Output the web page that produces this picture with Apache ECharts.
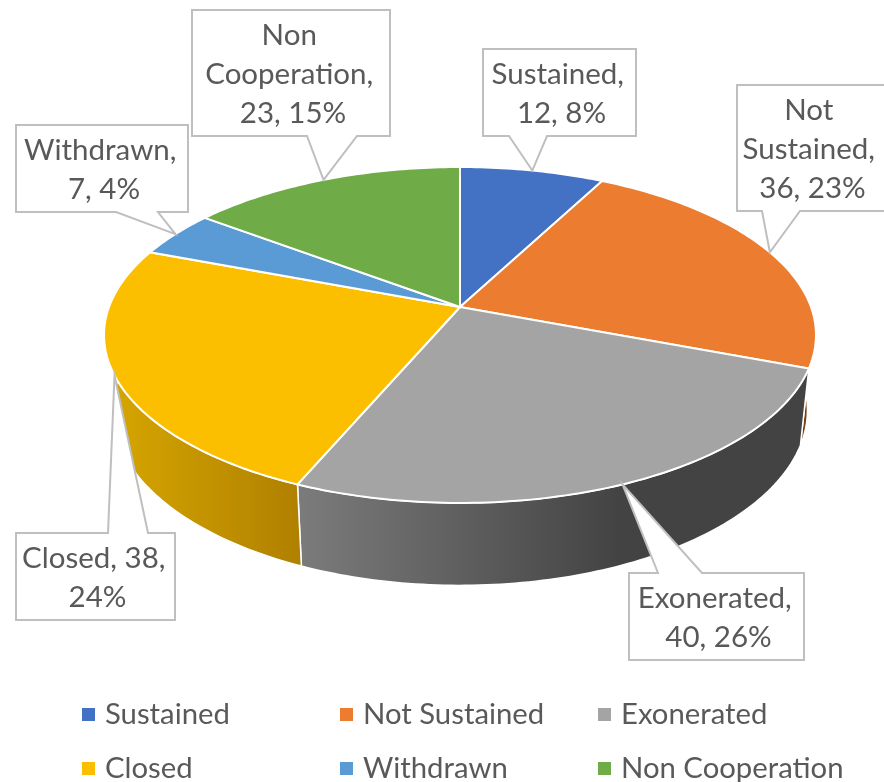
<!DOCTYPE html>
<html>
<head>
<meta charset="utf-8">
<style>
html,body{margin:0;padding:0;background:#fff}
#chart{width:884px;height:782px}
</style>
</head>
<body>
<div id="chart"></div>
<script src="https://cdn.jsdelivr.net/npm/echarts@6/dist/echarts.min.js"></script>
<script>
const categories = ['Sustained', 'Not Sustained', 'Exonerated', 'Closed', 'Withdrawn', 'Non Cooperation'];
const counts = [12, 36, 40, 38, 7, 23];
const colors = ['#4371c3', '#eb7c30', '#a4a4a4', '#fcbf00', '#5a9ad5', '#6fab47'];

// callout boxes: [left, top, right, bottom, wedge start x, wedge end x]
const callouts = [
    [483, 49, 636, 136, 509, 547],
    [737, 85, 887, 211, 762, 800],
    [629, 573, 804, 660, 658, 702],
    [16, 533, 175, 620, 108, 148],
    [16, 125, 188, 212, 116, 158],
    [192, 10, 390, 136, 307, 357]
];

// legend slots, left and top of each entry
const legendSlots = [[82, 700], [340, 700], [598, 700], [82, 754], [340, 754], [598, 754]];

const sideFills = [
    '#2a4478',
    '#7a3f12',
    {type: 'linear', global: true, x: 300, y: 0, x2: 620, y2: 0,
        colorStops: [{offset: 0, color: '#7b7b7b'}, {offset: 1, color: '#434343'}]},
    {type: 'linear', global: true, x: 120, y: 0, x2: 300, y2: 0,
        colorStops: [{offset: 0, color: '#d4a400'}, {offset: 1, color: '#b08000'}]},
    '#375f82',
    '#43682b'
];

const total = counts.reduce((a, b) => a + b, 0);
const FONT = 'Lato, "Noto Sans", sans-serif';

// pie lies in perspective, so circle angle -> screen goes through a projective map
const hubX = 460, hubY = 307, spanX = 351, spanY = 163.3, tilt = 1 / 6;
function topPoint(deg) {
    let t = deg * Math.PI / 180;
    let w = 1 + tilt * Math.cos(t);
    return [hubX + spanX * Math.sin(t) / w, hubY - spanY * Math.cos(t) / w];
}
function bottomPoint(deg) {
    let p = topPoint(deg);
    return [hubX + (p[0] - hubX) * 0.976, 381 + (p[1] - hubY) * 1.043];
}
function arc(fn, a0, a1) {
    let pts = [];
    let n = Math.max(2, Math.ceil(Math.abs(a1 - a0)));
    for (let i = 0; i <= n; i++) {
        pts.push(fn(a0 + (a1 - a0) * i / n));
    }
    return pts;
}
function calloutShape(box, tip) {
    let [l, t, r, b, w0, w1] = box;
    if (tip[1] < t) {
        return [[l, t], [w0, t], tip, [w1, t], [r, t], [r, b], [l, b]];
    }
    return [[l, t], [r, t], [r, b], [w1, b], tip, [w0, b], [l, b]];
}

function renderSlice(i) {
    return function (params, api) {
        let value = api.value(0);
        let before = counts.slice(0, i).reduce((a, b) => a + b, 0);
        let a0 = before / total * 360;
        let a1 = (before + value) / total * 360;
        let box = callouts[i];
        let tip = topPoint((a0 + a1) / 2);
        let side = arc(topPoint, a0, a1).concat(arc(bottomPoint, a1, a0));
        let face = [[hubX, hubY]].concat(arc(topPoint, a0, a1));
        return {
            type: 'group',
            children: [
                {
                    type: 'polygon', z2: 1, shape: {points: side},
                    style: {fill: sideFills[i], stroke: '#fff', lineWidth: 1.5}
                },
                {
                    type: 'polygon', z2: 10, shape: {points: face},
                    style: {fill: colors[i], stroke: '#fff', lineWidth: 2}
                },
                {
                    type: 'polygon', z2: 20, shape: {points: calloutShape(box, tip)},
                    style: {fill: '#fff', stroke: '#bfbfbf', lineWidth: 2}
                },
                {
                    type: 'text', z2: 30,
                    style: {
                        x: (box[0] + Math.min(box[2], 884)) / 2 + 2,
                        y: (box[1] + box[3]) / 2 + 1.5,
                        text: categories[i] + ', ' + value + ', ' + Math.round(value / total * 100) + '%',
                        width: Math.min(box[2], 884) - box[0] - 4,
                        overflow: 'break',
                        align: 'center',
                        verticalAlign: 'middle',
                        fontFamily: FONT,
                        fontSize: 29.5,
                        lineHeight: 39,
                        fill: '#595959'
                    }
                }
            ]
        };
    };
}

const chart = echarts.init(document.getElementById('chart'));
chart.setOption({
    animation: false,
    color: colors,
    legend: categories.map((name, i) => ({
        data: [name],
        left: legendSlots[i][0],
        top: legendSlots[i][1],
        padding: 0,
        itemWidth: 13,
        itemHeight: 13,
        icon: 'rect',
        selectedMode: false,
        textStyle: {
            fontFamily: FONT,
            fontSize: 29.3,
            color: '#595959',
            padding: [0, 0, 0, 5]
        }
    })),
    series: categories.map((name, i) => ({
        type: 'custom',
        name: name,
        coordinateSystem: 'none',
        renderItem: renderSlice(i),
        data: [[counts[i]]],
        silent: true
    }))
});
</script>
</body>
</html>
